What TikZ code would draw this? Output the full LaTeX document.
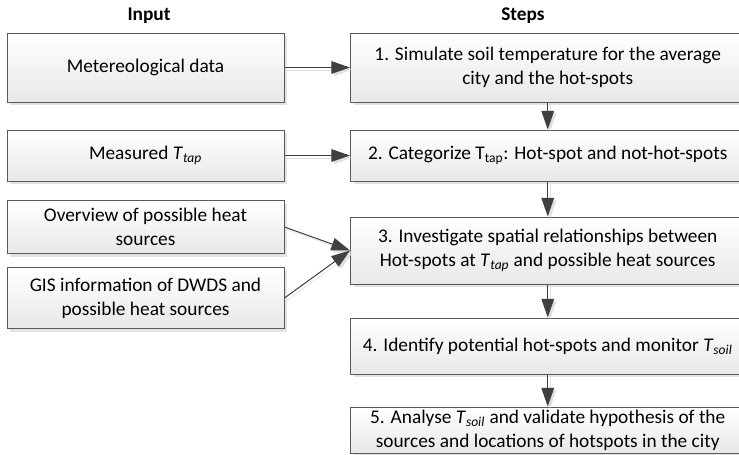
\documentclass[tikz,border=0pt]{standalone}
\usepackage{fontspec}
\setmainfont{Carlito}
\usetikzlibrary{arrows.meta,shadows}
\newcommand\Tsb[1]{\textit{T}\textsubscript{\textit{#1}}}
\tikzset{
  box/.style={draw=black!65, line width=0.75pt, top color=white, bottom color=black!9,
    drop shadow={shadow xshift=2.5pt, shadow yshift=-2.5pt, fill=black!11, opacity=1},
    align=center, inner sep=0pt, font=\fontsize{14.5}{18}\selectfont},
  inbox/.style={box, minimum width=207.75pt},
  stepbox/.style={box, minimum width=295.875pt},
  hdr/.style={font=\fontsize{14.5}{18}\selectfont\bfseries},
  arr/.style={draw=black!75, line width=0.75pt, -{Triangle[length=14pt,width=9.5pt]},
    preaction={draw=black!12, -{Triangle[length=14pt,width=9.5pt]}, transform canvas={shift={(1.8pt,-1.8pt)}}}}
}
\begin{document}
\begin{tikzpicture}[x=0.75pt,y=-0.75pt]
\clip (0,0) rectangle (739,454);
\fill[white] (0,0) rectangle (739,454);
\node[hdr] (hin) at (149,16) {Input};
\node[hdr] (hst) at (523,16) {Steps};
\node[inbox, minimum height=51.75pt] (in1) at (145.5,67.5) {Metereological data};
\node[inbox, minimum height=38.25pt] (in2) at (145.5,155.5) {Measured \Tsb{tap}};
\node[inbox, minimum height=39.75pt] (in3) at (145.5,227) {Overview of possible heat\\sources};
\node[inbox, minimum height=45.75pt] (in4) at (145.5,298) {GIS information of DWDS and\\possible heat sources};
\node[stepbox, minimum height=51.75pt] (s1) at (547.75,67.5) {1. Simulate soil temperature for the average\\city and the hot-spots};
\node[stepbox, minimum height=38.25pt] (s2) at (547.75,155.5) {2. Categorize T\textsubscript{tap}: Hot-spot and not-hot-spots};
\node[stepbox, minimum height=50.25pt] (s3) at (547.75,250.5) {3. Investigate spatial relationships between\\Hot-spots at \Tsb{tap} and possible heat sources};
\node[stepbox, minimum height=42pt] (s4) at (547.75,346) {4. Identify potential hot-spots and monitor \Tsb{soil}};
\node[stepbox, minimum height=34.5pt] (s5) at (547.75,430) {5. Analyse \Tsb{soil} and validate hypothesis of the\\sources and locations of hotspots in the city};
\draw[arr] (in1.east) -- (s1.west);
\draw[arr] (in2.east) -- (s2.west);
\draw[arr] (in3.east) -- (s3.west);
\draw[arr] (in4.east) -- (s3.west);
\draw[arr] (s1.south) -- (s2.north);
\draw[arr] (s2.south) -- (s3.north);
\draw[arr] (s3.south) -- (s4.north);
\draw[arr] (s4.south) -- (s5.north);
\end{tikzpicture}
\end{document}
